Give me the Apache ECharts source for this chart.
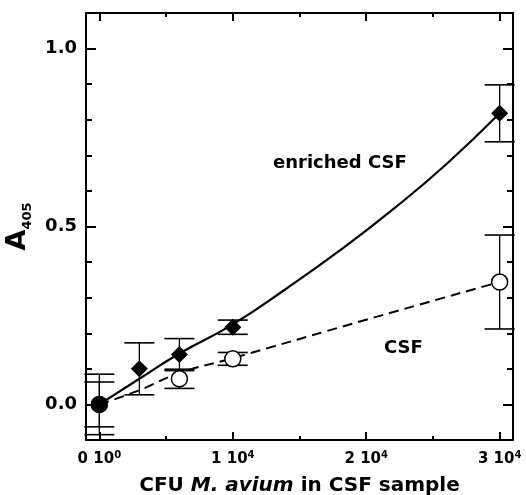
<!DOCTYPE html>
<html>
<head>
<meta charset="utf-8">
<script src="https://cdn.jsdelivr.net/npm/echarts@6/dist/echarts.min.js"></script>
<style>
  html, body { margin: 0; padding: 0; background: #fff; }
  #main { width: 526px; height: 495px; }
</style>
</head>
<body>
<div id="main"></div>
<script>
// measured points (CFU, A405) and error half-widths
var enrichedX = [0, 3000, 6000, 10000, 30000];
var enrichedY = [0, 0.10, 0.14, 0.217, 0.818];
var enrichedErr = [0.085, 0.073, 0.045, 0.02, 0.08];

var csfX = [0, 6000, 10000, 30000];
var csfY = [0, 0.072, 0.128, 0.344];
var csfErr = [0.063, 0.027, 0.018, 0.132];

// fitted curves
var fitEnrichedX = [0, 3000, 6000, 10000, 14000, 18000, 22000, 26000, 30000];
var fitEnrichedY = [0, 0.072, 0.143, 0.225, 0.325, 0.432, 0.548, 0.675, 0.818];
var fitCsfX = [0, 3000, 6000, 10000, 20000, 30000];
var fitCsfY = [0, 0.04, 0.088, 0.13, 0.238, 0.344];

var xMajor = [0, 10000, 20000, 30000];
var xMinor = [5000, 15000, 25000];
var yMajor = [0, 0.5, 1.0];
var yMinor = [-0.1, 0.1, 0.2, 0.3, 0.4, 0.6, 0.7, 0.8, 0.9, 1.1];

var FONT = 'DejaVu Sans';

var dom = document.getElementById('main');
var myChart = echarts.init(dom);

function pairs(xs, ys) {
    var out = [];
    for (var i = 0; i < xs.length; i++) out.push([xs[i], ys[i]]);
    return out;
}
function errData(xs, ys, es) {
    var out = [];
    for (var i = 0; i < xs.length; i++) out.push([xs[i], ys[i] - es[i], ys[i] + es[i]]);
    return out;
}

function renderErr(params, api) {
    var x = api.value(0);
    var lo = api.coord([x, api.value(1)]);
    var hi = api.coord([x, api.value(2)]);
    var hw = 15;
    return {
        type: 'group',
        children: [
            { type: 'line', shape: { x1: lo[0], y1: lo[1], x2: hi[0], y2: hi[1] }, style: { stroke: '#000', lineWidth: 1.3 } },
            { type: 'line', shape: { x1: lo[0] - hw, y1: lo[1], x2: lo[0] + hw, y2: lo[1] }, style: { stroke: '#000', lineWidth: 1.6 } },
            { type: 'line', shape: { x1: hi[0] - hw, y1: hi[1], x2: hi[0] + hw, y2: hi[1] }, style: { stroke: '#000', lineWidth: 1.6 } }
        ]
    };
}

function xAxisBase(pos, ticks, len, showLine) {
    return {
        type: 'value', position: pos, min: -1000, max: 31000,
        axisLine: { show: showLine, onZero: false, lineStyle: { color: '#000', width: 2 } },
        axisTick: { show: true, inside: true, length: len, customValues: ticks, lineStyle: { color: '#000', width: 2 } },
        axisLabel: { show: false },
        splitLine: { show: false }
    };
}
function yAxisBase(pos, ticks, len, showLine) {
    return {
        type: 'value', position: pos, min: -0.1, max: 1.1,
        axisLine: { show: showLine, onZero: false, lineStyle: { color: '#000', width: 2 } },
        axisTick: { show: true, inside: true, length: len, customValues: ticks, lineStyle: { color: '#000', width: 2 } },
        axisLabel: { show: false },
        splitLine: { show: false }
    };
}

var xBottom = xAxisBase('bottom', xMajor, 8, true);
xBottom.axisLabel = {
    show: true, customValues: xMajor, margin: 10,
    formatter: function (v) {
        var e = v === 0 ? 0 : 4;
        return '{b|' + (v / Math.pow(10, e)) + ' 10}{s|' + e + '}';
    },
    rich: {
        b: { fontFamily: FONT, fontWeight: 'bold', fontSize: 15, color: '#000', lineHeight: 18 },
        s: { fontFamily: FONT, fontWeight: 'bold', fontSize: 10, color: '#000', lineHeight: 11, verticalAlign: 'top' }
    }
};
xBottom.name = '{n|CFU }{i|M. avium}{n| in CSF sample}';
xBottom.nameLocation = 'middle';
xBottom.nameGap = 36;
xBottom.nameTextStyle = {
    rich: {
        n: { fontFamily: FONT, fontWeight: 'bold', fontSize: 20, color: '#000' },
        i: { fontFamily: FONT, fontWeight: 'bold', fontStyle: 'italic', fontSize: 20, color: '#000' }
    }
};

var yLeft = yAxisBase('left', yMajor, 10, true);
yLeft.axisLabel = {
    show: true, customValues: yMajor, margin: 9,
    fontFamily: FONT, fontWeight: 'bold', fontSize: 18, color: '#000',
    formatter: function (v) { return v.toFixed(1); }
};
yLeft.name = '{a|A}{s|405}';
yLeft.nameLocation = 'middle';
yLeft.nameRotate = 90;
yLeft.nameGap = 50;
yLeft.nameTextStyle = {
    rich: {
        a: { fontFamily: FONT, fontWeight: 'bold', fontSize: 27, color: '#000', lineHeight: 32 },
        s: { fontFamily: FONT, fontWeight: 'bold', fontSize: 13, color: '#000', lineHeight: 14, verticalAlign: 'bottom' }
    }
};

option = {
    animation: false,
    backgroundColor: '#fff',
    grid: { left: 86, right: 13, top: 13, bottom: 55, containLabel: false, outerBoundsMode: 'none' },
    xAxis: [
        xBottom,
        xAxisBase('bottom', xMinor, 4, false),
        xAxisBase('top', xMajor, 8, true),
        xAxisBase('top', xMinor, 4, false)
    ],
    yAxis: [
        yLeft,
        yAxisBase('left', yMinor, 6, false),
        yAxisBase('right', yMajor, 10, true),
        yAxisBase('right', yMinor, 6, false)
    ],
    graphic: [
        { type: 'text', left: 273, top: 154, style: { text: 'enriched CSF', font: 'bold 18px "DejaVu Sans"', fill: '#000' } },
        { type: 'text', left: 384, top: 339, style: { text: 'CSF', font: 'bold 18px "DejaVu Sans"', fill: '#000' } }
    ],
    series: [
        {
            name: 'fit CSF', type: 'line', smooth: true, showSymbol: false, symbol: 'none',
            data: pairs(fitCsfX, fitCsfY),
            lineStyle: { color: '#000', width: 2, type: [10, 6] }, z: 2
        },
        {
            name: 'fit enriched', type: 'line', smooth: true, showSymbol: false, symbol: 'none',
            data: pairs(fitEnrichedX, fitEnrichedY),
            lineStyle: { color: '#000', width: 2.2 }, z: 2
        },
        {
            name: 'err CSF', type: 'custom', renderItem: renderErr,
            data: errData(csfX, csfY, csfErr), encode: { x: 0, y: [1, 2] }, z: 3
        },
        {
            name: 'err enriched', type: 'custom', renderItem: renderErr,
            data: errData(enrichedX, enrichedY, enrichedErr), encode: { x: 0, y: [1, 2] }, z: 3
        },
        {
            name: 'CSF', type: 'scatter', symbol: 'circle', symbolSize: 16,
            data: pairs(csfX, csfY),
            itemStyle: { color: '#fff', borderColor: '#000', borderWidth: 1.5, opacity: 1 }, z: 4
        },
        {
            name: 'enriched CSF', type: 'scatter', symbol: 'diamond', symbolSize: [17, 17],
            data: pairs(enrichedX, enrichedY).map(function (p, i) {
                return i === 0 ? { value: p, symbol: 'circle', symbolSize: 17 } : p;
            }),
            itemStyle: { color: '#000', opacity: 1 }, z: 5
        }
    ]
};
myChart.setOption(option, true);
</script>
</body>
</html>
